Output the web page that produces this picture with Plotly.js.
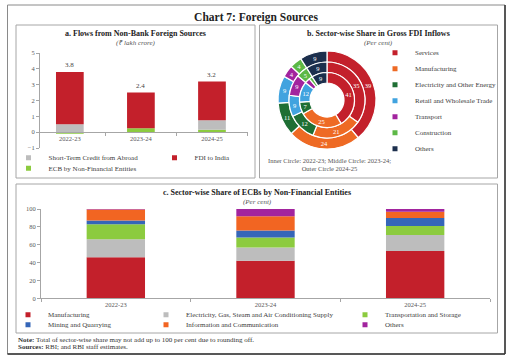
<!DOCTYPE html>
<html>
<head>
<meta charset="utf-8">
<script src="https://cdn.plot.ly/plotly-3.0.1.min.js"></script>
<style>html,body{margin:0;padding:0;background:#fff;}#chart{width:512px;height:358px;}</style>
</head>
<body>
<div id="chart"></div>
<script>
// ---------- data ----------
const years = ['2022-23', '2023-24', '2024-25'];

// a. Flows from Non-Bank Foreign Sources (₹ lakh crore)
const flowNames = ['Short-Term Credit from Abroad', 'FDI to India', 'ECB by Non-Financial Entities'];
const stCredit = [0.5, 0, 0.6];
const fdiIndia = [3.3, 2.25, 2.45];
const ecbNonFin = [-0.1, 0.25, 0.15];
const totalLabels = ['3.8', '2.4', '3.2'];

// b. Sector-wise share in gross FDI inflows (per cent)
const fdiSectors = ['Services', 'Manufacturing', 'Electricity and Other Energy', 'Retail and Wholesale Trade', 'Transport', 'Construction', 'Others'];
const share2223 = [41, 25, 7, 12, 3, 2, 9];   // inner circle
const share2324 = [35, 21, 12, 9, 9, 5, 9];   // middle circle
const share2425 = [39, 24, 11, 9, 4, 4, 9];   // outer circle

// c. Sector-wise share of ECBs by non-financial entities (per cent)
const ecbSectors = ['Manufacturing', 'Electricity, Gas, Steam and Air Conditioning Supply', 'Transportation and Storage', 'Mining and Quarrying', 'Information and Communication', 'Others'];
const ecbMfg = [46, 42, 53];
const ecbElec = [20, 15, 18];
const ecbTransport = [17, 11, 10];
const ecbMining = [4, 8, 9];
const ecbInfo = [12.5, 16, 7];
const ecbOthers = [0.5, 8, 3];

// ---------- style ----------
const W = 512, H = 358;
const F = 'Liberation Serif';
const px = v => v / W;
const py = v => 1 - v / H;
const axisGrey = '#A6A6A6';
const tickCol = '#595959';

const flowColors = ['#BDBDBD', '#C3202B', '#8CCB3F'];
const pieColors = ['#C3202B', '#EE6A24', '#1F6F34', '#41A3DF', '#A2249E', '#5DB846', '#1C2F4D'];
const ecbColors = ['#C3202B', '#BDBDBD', '#8CCB3F', '#3566B8', '#F26522', '#A2249E'];

const traces = [];
const legends = {};
let legendCount = 0;
function addLegendEntry(name, color, xText, yMid) {
  legendCount += 1;
  const id = legendCount === 1 ? 'legend' : 'legend' + legendCount;
  legends[id] = {
    x: px(xText - 40), y: py(yMid), xanchor: 'left', yanchor: 'middle',
    bgcolor: 'rgba(0,0,0,0)', borderwidth: 0,
    font: {family: F, size: 7, color: '#404040'}
  };
  traces.push({
    type: 'scatter', mode: 'markers', x: [null], y: [null], name: name,
    marker: {symbol: 'square', size: 5, color: color},
    xaxis: 'x', yaxis: 'y', showlegend: true, legend: id, hoverinfo: 'skip'
  });
}

// ---------- panel a ----------
const flowSeries = [ecbNonFin, stCredit, fdiIndia];
const flowSeriesNames = [flowNames[2], flowNames[0], flowNames[1]];
const flowSeriesColors = [flowColors[2], flowColors[0], flowColors[1]];
flowSeries.forEach((vals, i) => {
  traces.push({
    type: 'bar', x: years, y: vals, name: flowSeriesNames[i],
    marker: {color: flowSeriesColors[i]}, width: 0.39,
    xaxis: 'x', yaxis: 'y', showlegend: false
  });
});

// ---------- panel c ----------
const ecbSeries = [ecbMfg, ecbElec, ecbTransport, ecbMining, ecbInfo, ecbOthers];
ecbSeries.forEach((vals, i) => {
  traces.push({
    type: 'bar', x: years, y: vals, name: ecbSectors[i],
    marker: {color: ecbColors[i]}, width: 0.39,
    xaxis: 'x2', yaxis: 'y2', showlegend: false
  });
});

// ---------- panel b (nested donuts) ----------
const cx = 327, cy = 100;
const rings = [
  {vals: share2425, r: 49, rIn: 38},
  {vals: share2324, r: 38, rIn: 27.5},
  {vals: share2223, r: 27.5, rIn: 17}
];
rings.forEach(rg => {
  traces.push({
    type: 'pie', labels: fdiSectors, values: rg.vals,
    text: rg.vals.map(v => v >= 4 ? String(v) : ''),
    texttemplate: '%{text}', textinfo: 'text',
    textposition: 'inside', insidetextorientation: 'horizontal',
    textfont: {family: F, size: 6.5, color: '#ffffff'},
    sort: false, direction: 'clockwise', rotation: 0,
    hole: rg.rIn / rg.r,
    marker: {colors: pieColors, line: {color: '#ffffff', width: 1.2}},
    domain: {x: [px(cx - rg.r), px(cx + rg.r)], y: [py(cy + rg.r), py(cy - rg.r)]},
    showlegend: false, hoverinfo: 'label+value'
  });
});

// ---------- legends (one entry each, placed like the reference) ----------
addLegendEntry(flowNames[0], flowColors[0], 48.5, 157.7);
addLegendEntry(flowNames[1], flowColors[1], 194.5, 157.7);
addLegendEntry(flowNames[2], flowColors[2], 48.5, 168.2);
fdiSectors.forEach((s, i) => addLegendEntry(s, pieColors[i], 415, 52.7 + 16 * i));
const ecbLegendX = [48, 186, 385, 48, 186, 385];
const ecbLegendY = [314.7, 314.7, 314.7, 324.7, 324.7, 324.7];
ecbSectors.forEach((s, i) => addLegendEntry(s, ecbColors[i], ecbLegendX[i], ecbLegendY[i]));

// ---------- axes ----------
const yaRange = [-1, 5];
const yaDomain = [py(148), py(53)];
const zeroPos = yaDomain[0] + (0 - yaRange[0]) / (yaRange[1] - yaRange[0]) * (yaDomain[1] - yaDomain[0]);
const tickFont = {family: F, size: 6.5, color: tickCol};

const annotations = [];
function note(text, x, y, opts) {
  annotations.push(Object.assign({
    text: text, x: px(x), y: py(y), xref: 'paper', yref: 'paper',
    showarrow: false, xanchor: 'center', yanchor: 'middle',
    font: {family: F, size: 8, color: '#222'}
  }, opts || {}));
}
note('<b>a. Flows from Non-Bank Foreign Sources</b>', 135.5, 34);
note('<i>(₹ lakh crore)</i>', 135.5, 43, {font: {family: F, size: 7, color: '#555'}});
note('<b>b. Sector-wise Share in Gross FDI Inflows</b>', 378.5, 34);
note('<i>(Per cent)</i>', 378.5, 43, {font: {family: F, size: 7, color: '#555'}});
note('<b>c. Sector-wise Share of ECBs by Non-Financial Entities</b>', 257, 192.3);
note('<i>(Per cent)</i>', 257, 201.7, {font: {family: F, size: 7, color: '#555'}});
note('Inner Circle: 2022-23; Middle Circle: 2023-24;<br>Outer Circle 2024-25', 329, 164.5,
  {font: {family: F, size: 6.5, color: '#555'}});
note('<b>Note:</b> Total of sector-wise share may not add up to 100 per cent due to rounding off.', 16, 339.5,
  {xanchor: 'left', font: {family: F, size: 7, color: '#333'}});
note('<b>Sources:</b> RBI; and RBI staff estimates.', 16, 347.2,
  {xanchor: 'left', font: {family: F, size: 7, color: '#333'}});

// totals above the stacked bars in panel a
years.forEach((yr, i) => {
  const top = [stCredit[i], fdiIndia[i], ecbNonFin[i]].filter(v => v > 0).reduce((a, b) => a + b, 0);
  annotations.push({
    text: totalLabels[i], x: yr, y: top, xref: 'x', yref: 'y', showarrow: false,
    yanchor: 'bottom', yshift: 1, font: {family: F, size: 7, color: '#444'}
  });
});

const shapes = [
  {type: 'rect', xref: 'paper', yref: 'paper', x0: px(7.5), x1: px(505), y0: py(354), y1: py(5), line: {color: '#8a8a8a', width: 1}},
  {type: 'line', xref: 'paper', yref: 'paper', x0: px(505), x1: px(505), y0: py(354), y1: py(5), line: {color: '#333', width: 1.5}},
  {type: 'line', xref: 'paper', yref: 'paper', x0: px(7.5), x1: px(505), y0: py(354), y1: py(354), line: {color: '#333', width: 1.5}},
  {type: 'rect', xref: 'paper', yref: 'paper', x0: px(16), x1: px(255), y0: py(178), y1: py(25), line: {color: axisGrey, width: 1}},
  {type: 'rect', xref: 'paper', yref: 'paper', x0: px(259.5), x1: px(497.5), y0: py(178), y1: py(25), line: {color: axisGrey, width: 1}},
  {type: 'rect', xref: 'paper', yref: 'paper', x0: px(16), x1: px(497.5), y0: py(333), y1: py(184), line: {color: axisGrey, width: 1}}
];

const layout = Object.assign({
  width: W, height: H,
  margin: {l: 0, r: 0, t: 0, b: 0},
  paper_bgcolor: '#ffffff', plot_bgcolor: 'rgba(0,0,0,0)',
  barmode: 'relative',
  font: {family: F, color: '#333'},
  title: {text: '<b>Chart 7: Foreign Sources</b>', x: 0.5, xanchor: 'center', y: py(16.5), yanchor: 'middle',
    font: {family: F, size: 11.5, color: '#222'}},
  xaxis: {
    type: 'category', categoryorder: 'array', categoryarray: years,
    domain: [px(40), px(247.5)], range: [-0.42, 2.5],
    anchor: 'free', position: zeroPos,
    showline: true, linecolor: axisGrey, linewidth: 1,
    ticks: 'outside', tickson: 'boundaries', ticklen: 3, tickcolor: axisGrey,
    showgrid: false, zeroline: false, tickfont: tickFont, fixedrange: true
  },
  yaxis: {
    domain: yaDomain, range: yaRange, dtick: 1, anchor: 'x',
    showline: true, linecolor: axisGrey, ticks: 'outside', ticklen: 3, tickcolor: axisGrey,
    showgrid: false, zeroline: false, tickfont: tickFont, fixedrange: true
  },
  xaxis2: {
    type: 'category', categoryorder: 'array', categoryarray: years,
    domain: [px(41), px(490)], range: [-0.5, 2.5], anchor: 'y2',
    showline: true, linecolor: axisGrey, linewidth: 1,
    ticks: 'outside', tickson: 'boundaries', ticklen: 3, tickcolor: axisGrey,
    showgrid: false, zeroline: false, tickfont: tickFont, fixedrange: true
  },
  yaxis2: {
    domain: [py(298.3), py(209)], range: [0, 100], dtick: 20, anchor: 'x2',
    showline: true, linecolor: axisGrey, ticks: 'outside', ticklen: 3, tickcolor: axisGrey,
    showgrid: false, zeroline: false, tickfont: tickFont, fixedrange: true
  },
  annotations: annotations,
  shapes: shapes
}, legends);

Plotly.newPlot('chart', traces, layout, {displayModeBar: false, staticPlot: true});
</script>
</body>
</html>
